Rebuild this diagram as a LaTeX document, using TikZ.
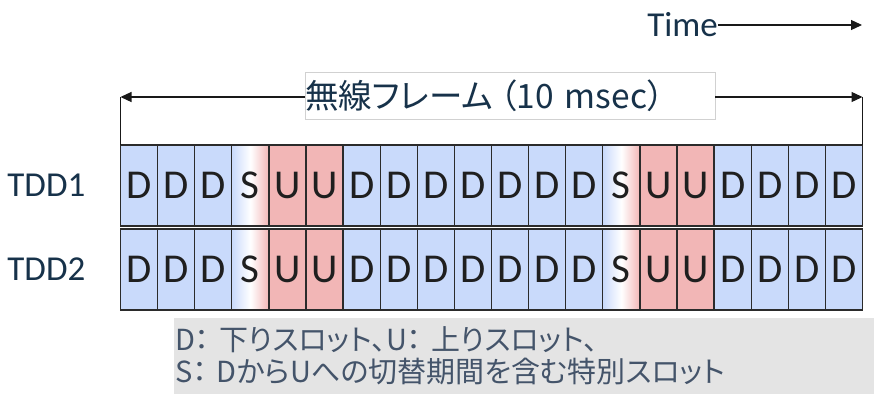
\documentclass[tikz,border=0pt]{standalone}
\usepackage{fontspec}
\setmainfont{Carlito}
\newfontfamily\jpfont[RawFeature=+palt]{Noto Sans CJK JP}
\usetikzlibrary{positioning,arrows.meta}
\definecolor{dSlot}{HTML}{C9DAFB}
\definecolor{uSlot}{HTML}{F2B6B6}
\definecolor{slotLine}{HTML}{2B2B2B}
\definecolor{inkNavy}{HTML}{17324A}
\definecolor{noteInk}{HTML}{44546A}
\definecolor{noteFill}{HTML}{E4E4E4}

\begin{document}
\begin{tikzpicture}[
  x=1pt,
  y=-1pt,
  every slot/.style={
    draw=slotLine,
    line width=1.3pt,
    minimum width=37.1pt,
    minimum height=81pt,
    inner sep=0pt,
    outer sep=0pt,
    text=black!88,
    font=\fontsize{41}{41}\selectfont,
  },
  slot D/.style={
    every slot/.try,
    fill=dSlot,
  },
  slot U/.style={
    every slot/.try,
    fill=uSlot,
  },
  slot S/.style={
    every slot/.try,
    left color=dSlot,
    right color=uSlot,
    middle color=white,
  },
  row label/.style={
    text=inkNavy,
    font=\fontsize{35}{35}\selectfont,
    inner sep=0pt,
  },
  span arrow/.style={
    draw=black!90,
    line width=1.2pt,
    -{Triangle[length=11pt,width=10pt]},
  }
]
\useasboundingbox (0,0) rectangle (874,394);

% time axis
\node[row label, anchor=east] (time) at (718,25) {Time};
\coordinate (timeEnd) at (862,25);
\draw[span arrow] (time.east) -- (timeEnd);

% the two frames
\node[slot D, anchor=north west] (a1) at (120.5,145) {D};
\node[slot D, anchor=north west] (b1) at (120.5,229) {D};
\foreach[evaluate=\k as \kmo using int(\k-1)] \k/\t in
  {2/D,3/D,4/S,5/U,6/U,7/D,8/D,9/D,10/D,11/D,12/D,13/D,14/S,15/U,16/U,17/D,18/D,19/D,20/D}
{
  \node[slot \t, right=0pt of a\kmo] (a\k) {\t};
  \node[slot \t, right=0pt of b\kmo] (b\k) {\t};
}
\node[row label, left=35pt of a1] (tdd1) {TDD1};
\node[row label, left=35pt of b1] (tdd2) {TDD2};

% radio frame span
\node[draw=black!18, fill=white, line width=0.8pt, minimum width=410pt, minimum height=47pt,
  inner sep=0pt, text width=410pt, align=left, text=inkNavy,
  font=\jpfont\fontsize{33.5}{34}\selectfont]
  (frame) at (510,95.5) {無線フレーム\hspace{7pt}（10 msec）};
\coordinate (frameL) at (a1.north west |- 0,97);
\coordinate (frameR) at (a20.north east |- 0,97);
\draw[span arrow] (frame.west |- frameL) -- (frameL);
\draw[span arrow] (frame.east |- frameR) -- (frameR);
\draw[black!90, line width=1.5pt] (frameL) -- (a1.north west);
\draw[black!90, line width=1.5pt] (frameR) -- (a20.north east);

% legend
\node[fill=noteFill, anchor=north west, minimum width=700pt, minimum height=76pt,
  inner sep=0pt, text=noteInk, font=\jpfont\fontsize{29}{32}\selectfont,
  align=left, text width=698pt] (note) at (174,318)
  {D：\hspace{10pt}下りスロット、U：\hspace{10pt}上りスロット、\\S：\hspace{10pt}DからUへの切替期間を含む特別スロット};
\end{tikzpicture}
\end{document}
